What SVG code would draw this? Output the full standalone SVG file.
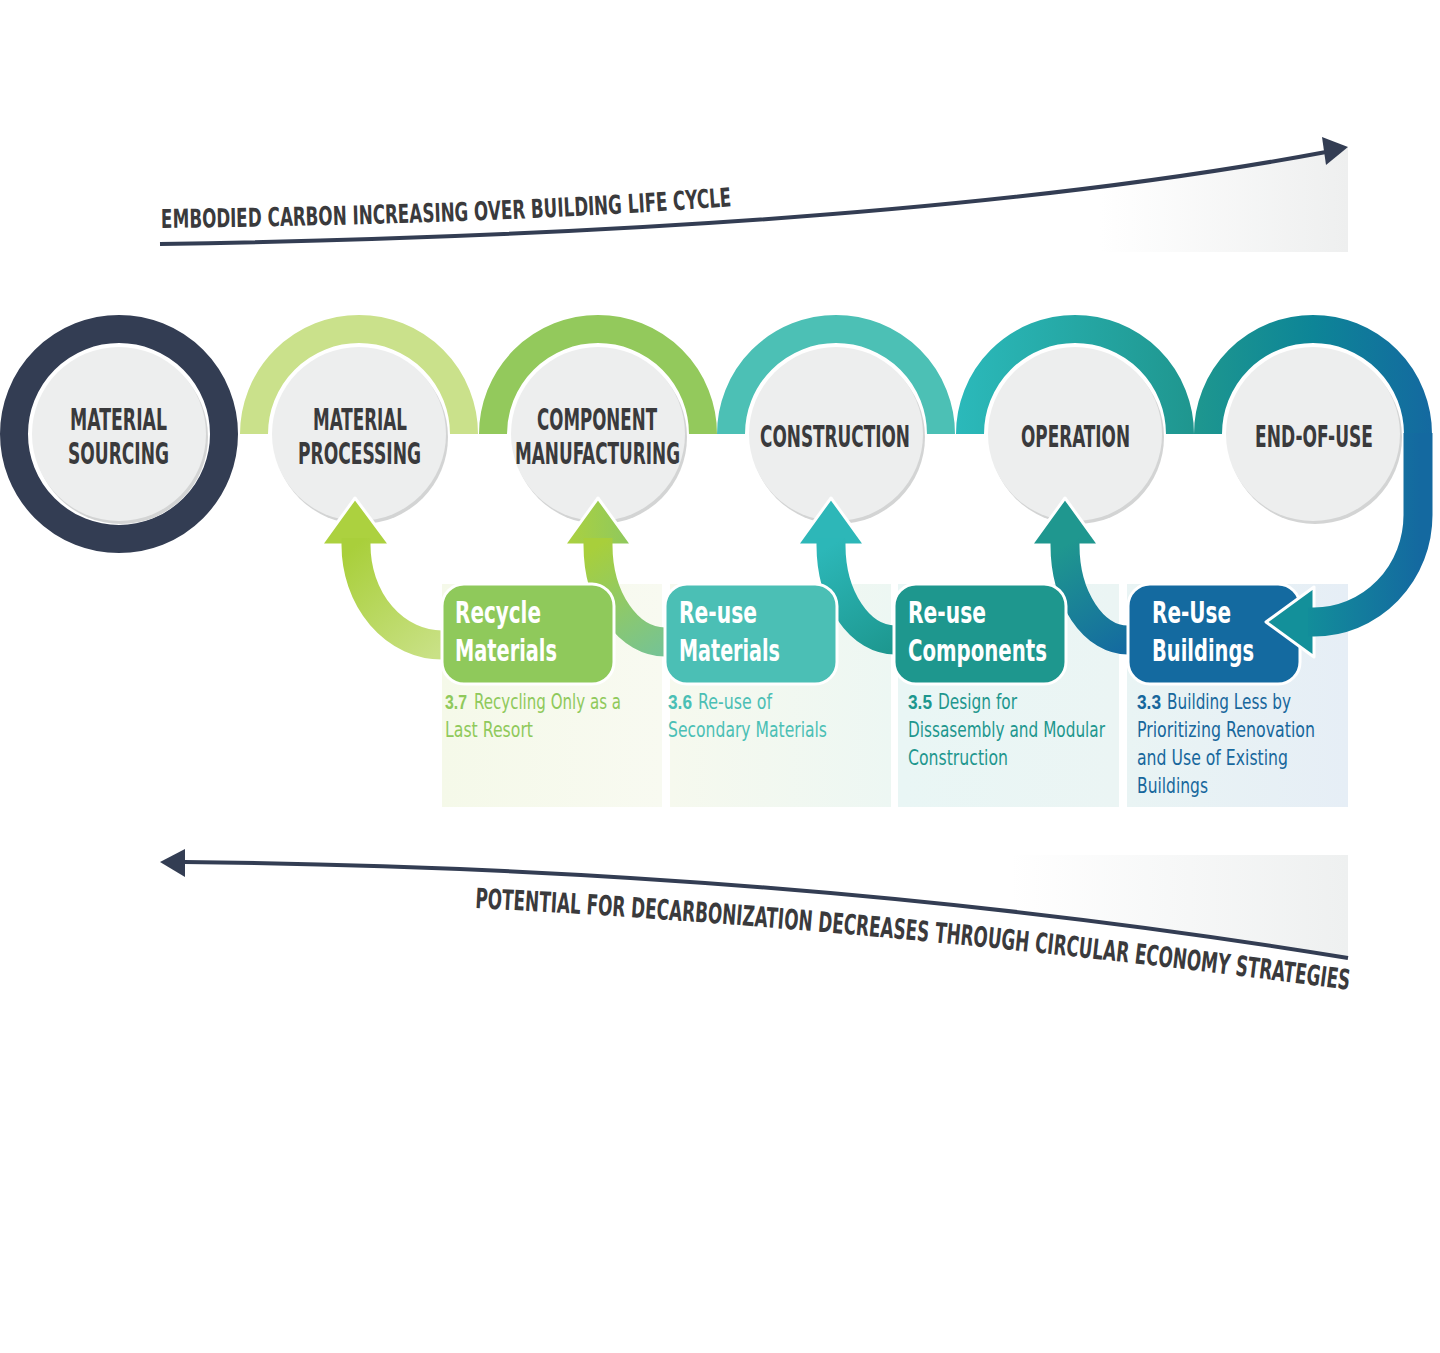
<svg xmlns="http://www.w3.org/2000/svg" width="1440" height="1353" viewBox="0 0 1440 1353">
<style>
.t{font-family:"Liberation Sans Narrow","DejaVu Sans Condensed","Liberation Sans",sans-serif}
.n{font-family:"Liberation Sans",sans-serif;font-size:20px;font-weight:700}
.lbl{font-size:30px;font-weight:700;fill:#3a3a3c}
.ttl{font-size:30px;font-weight:700;fill:#ffffff}
.dsc{font-size:21px}
.hd{font-size:26px;font-weight:700;fill:#3a3a3c}
.hd2{font-size:28px;font-weight:700;fill:#3a3a3c}
.circ{fill:#edeeee}
.shd{fill:#d3d4d4}
.ring{fill:none;stroke-width:28}
.ah{stroke:#ffffff;stroke-width:3;stroke-linejoin:round}
.shaft{fill:none;stroke-width:29}
.box{stroke:#ffffff;stroke-width:3}
.axis{fill:none;stroke:#333d53;stroke-width:4}
</style>
<defs>
<linearGradient id="gTop" gradientUnits="userSpaceOnUse" x1="1100" y1="0" x2="1348" y2="0"><stop offset="0" stop-color="#ffffff"/><stop offset="1" stop-color="#eeefef"/></linearGradient>
<linearGradient id="gBot" gradientUnits="userSpaceOnUse" x1="1010" y1="0" x2="1348" y2="0"><stop offset="0" stop-color="#ffffff"/><stop offset="1" stop-color="#eef0f0"/></linearGradient>
<linearGradient id="gP1" x1="0" y1="0" x2="1" y2="0"><stop offset="0" stop-color="#f5f9e9"/><stop offset="1" stop-color="#f8faf1"/></linearGradient>
<linearGradient id="gP2" x1="0" y1="0" x2="1" y2="0"><stop offset="0" stop-color="#f6f9ee"/><stop offset="1" stop-color="#edf7f3"/></linearGradient>
<linearGradient id="gP3" x1="0" y1="0" x2="1" y2="0"><stop offset="0" stop-color="#e9f6f5"/><stop offset="1" stop-color="#ebf5f4"/></linearGradient>
<linearGradient id="gP4" x1="0" y1="0" x2="1" y2="0"><stop offset="0" stop-color="#e9f4f4"/><stop offset="1" stop-color="#e6eef6"/></linearGradient>
<linearGradient id="gOp" gradientUnits="userSpaceOnUse" x1="958" y1="0" x2="1193" y2="0"><stop offset="0" stop-color="#2bb9ba"/><stop offset="1" stop-color="#1f968f"/></linearGradient>
<linearGradient id="gEnd" gradientUnits="userSpaceOnUse" x1="1194" y1="0" x2="1432" y2="0"><stop offset="0" stop-color="#1e978f"/><stop offset="0.5" stop-color="#0d8597"/><stop offset="1" stop-color="#1469a0"/></linearGradient>
<linearGradient id="gJ" gradientUnits="userSpaceOnUse" x1="1300" y1="0" x2="1420" y2="0"><stop offset="0" stop-color="#12909a"/><stop offset="1" stop-color="#1469a0"/></linearGradient>
<linearGradient id="gS1" gradientUnits="userSpaceOnUse" x1="356" y1="545" x2="442" y2="650"><stop offset="0" stop-color="#a9cf3b"/><stop offset="1" stop-color="#c9e186"/></linearGradient>
<linearGradient id="gS2" gradientUnits="userSpaceOnUse" x1="598" y1="545" x2="666" y2="650"><stop offset="0" stop-color="#a8cf3b"/><stop offset="1" stop-color="#76c394"/></linearGradient>
<linearGradient id="gS3" gradientUnits="userSpaceOnUse" x1="831" y1="545" x2="895" y2="650"><stop offset="0" stop-color="#2cb7b8"/><stop offset="1" stop-color="#1d978f"/></linearGradient>
<linearGradient id="gS4" gradientUnits="userSpaceOnUse" x1="1065" y1="545" x2="1128" y2="650"><stop offset="0" stop-color="#1f978f"/><stop offset="1" stop-color="#146aa0"/></linearGradient>
<linearGradient id="gA2" gradientUnits="userSpaceOnUse" x1="564" y1="0" x2="632" y2="0"><stop offset="0" stop-color="#acd13e"/><stop offset="1" stop-color="#8ec85f"/></linearGradient>
<clipPath id="outsideBoxes">
<path clip-rule="evenodd" d="M0,0H1440V1353H0Z M464,582.5H591.5A23.5,23.5 0 0 1 615.5,606V662A23.5,23.5 0 0 1 591.5,685.5H464A23.5,23.5 0 0 1 440.5,662V606A23.5,23.5 0 0 1 464,582.5Z M687,582.5H814.5A23.5,23.5 0 0 1 838.5,606V662A23.5,23.5 0 0 1 814.5,685.5H687A23.5,23.5 0 0 1 663.5,662V606A23.5,23.5 0 0 1 687,582.5Z M916,582.5H1043.5A23.5,23.5 0 0 1 1067.5,606V662A23.5,23.5 0 0 1 1043.5,685.5H916A23.5,23.5 0 0 1 892.5,662V606A23.5,23.5 0 0 1 916,582.5Z M1150,582.5H1277.5A23.5,23.5 0 0 1 1301.5,606V662A23.5,23.5 0 0 1 1277.5,685.5H1150A23.5,23.5 0 0 1 1126.5,662V606A23.5,23.5 0 0 1 1150,582.5Z"/>
</clipPath>
<path id="topTextPath" d="M161,228 Q500,224 732,206 L800,199"/>
<path id="botTextPath" d="M475,908 Q900,930 1350,990 L1400,997"/>
</defs>

<rect width="1440" height="1353" fill="#ffffff"/>

<g id="axis-embodied-carbon">
<path d="M1100,187 L1145,181.5 L1241,167.5 L1326,152 L1348,148 V252 H1100 Z" fill="url(#gTop)"/>
<path class="axis" d="M160,244 Q900,232 1326,152"/>
<polygon points="1348,147 1322,137 1326,165" fill="#333d53"/>
<text class="t hd"><textPath href="#topTextPath" textLength="571" lengthAdjust="spacingAndGlyphs">EMBODIED CARBON INCREASING OVER BUILDING LIFE CYCLE</textPath></text>
</g>

<g id="axis-decarbonization">
<path d="M1013,855 H1348 V958 L1237.7,940.8 L1126,925.4 L1013,911.6 Z" fill="url(#gBot)"/>
<path class="axis" d="M184,862 Q800,868 1348,958"/>
<polygon points="160,862 185,849 185,877" fill="#333d53"/>
<text class="t hd2"><textPath href="#botTextPath" textLength="878" lengthAdjust="spacingAndGlyphs">POTENTIAL FOR DECARBONIZATION DECREASES THROUGH CIRCULAR ECONOMY STRATEGIES</textPath></text>
</g>

<g id="panels">
<rect x="442" y="584" width="220" height="223" fill="url(#gP1)"/>
<rect x="670" y="584" width="221" height="223" fill="url(#gP2)"/>
<rect x="898" y="584" width="221" height="223" fill="url(#gP3)"/>
<rect x="1127" y="584" width="221" height="223" fill="url(#gP4)"/>
</g>

<g id="node-material-sourcing">
<circle class="ring" cx="119" cy="434" r="105" stroke="#333d53"/>
<circle class="shd" cx="121" cy="437" r="87"/>
<circle class="circ" cx="119" cy="434" r="87"/>
<text class="t lbl" x="70" y="430" textLength="97" lengthAdjust="spacingAndGlyphs">MATERIAL</text>
<text class="t lbl" x="68" y="464" textLength="101" lengthAdjust="spacingAndGlyphs">SOURCING</text>
</g>

<g id="node-material-processing">
<path class="ring" d="M254,434 A105,105 0 0 1 464,434" stroke="#cae18b"/>
<circle class="shd" cx="361" cy="437" r="87"/>
<circle class="circ" cx="359" cy="434" r="87"/>
<text class="t lbl" x="313" y="430" textLength="94" lengthAdjust="spacingAndGlyphs">MATERIAL</text>
<text class="t lbl" x="298" y="464" textLength="123" lengthAdjust="spacingAndGlyphs">PROCESSING</text>
</g>

<g id="node-component-manufacturing">
<path class="ring" d="M493,434 A105,105 0 0 1 703,434" stroke="#93c95c"/>
<circle class="shd" cx="600" cy="437" r="87"/>
<circle class="circ" cx="598" cy="434" r="87"/>
<text class="t lbl" x="537" y="430" textLength="120" lengthAdjust="spacingAndGlyphs">COMPONENT</text>
<text class="t lbl" x="515" y="464" textLength="165" lengthAdjust="spacingAndGlyphs">MANUFACTURING</text>
</g>

<g id="node-construction">
<path class="ring" d="M731,434 A105,105 0 0 1 941,434" stroke="#4cc0b5"/>
<circle class="shd" cx="838" cy="437" r="87"/>
<circle class="circ" cx="836" cy="434" r="87"/>
<text class="t lbl" x="760" y="447" textLength="150" lengthAdjust="spacingAndGlyphs">CONSTRUCTION</text>
</g>

<g id="node-operation">
<path class="ring" d="M970,434 A105,105 0 0 1 1180,434" stroke="url(#gOp)"/>
<circle class="shd" cx="1077" cy="437" r="87"/>
<circle class="circ" cx="1075" cy="434" r="87"/>
<text class="t lbl" x="1021" y="447" textLength="109" lengthAdjust="spacingAndGlyphs">OPERATION</text>
</g>

<g id="node-end-of-use">
<path class="ring" d="M1208,434 A105,105 0 0 1 1418,434" stroke="url(#gEnd)"/>
<circle class="shd" cx="1315" cy="437" r="87"/>
<circle class="circ" cx="1313" cy="434" r="87"/>
<text class="t lbl" x="1255" y="447" textLength="118" lengthAdjust="spacingAndGlyphs">END-OF-USE</text>
</g>

<g id="node-recycle-materials">
<rect class="box" x="442" y="584" width="172" height="100" rx="22" fill="#8fc95b"/>
<text class="t ttl" x="455" y="623" textLength="86" lengthAdjust="spacingAndGlyphs">Recycle</text>
<text class="t ttl" x="455" y="661" textLength="102" lengthAdjust="spacingAndGlyphs">Materials</text>
<text class="n" fill="#8fc95b" x="445" y="709" textLength="22" lengthAdjust="spacingAndGlyphs">3.7</text>
<text class="t dsc" fill="#8fc95b" x="474" y="709" textLength="147" lengthAdjust="spacingAndGlyphs">Recycling Only as a</text>
<text class="t dsc" fill="#8fc95b" x="445" y="737" textLength="88" lengthAdjust="spacingAndGlyphs">Last Resort</text>
</g>

<g id="node-reuse-materials">
<rect class="box" x="665" y="584" width="172" height="100" rx="22" fill="#4bbfb5"/>
<text class="t ttl" x="679" y="623" textLength="78" lengthAdjust="spacingAndGlyphs">Re-use</text>
<text class="t ttl" x="679" y="661" textLength="101" lengthAdjust="spacingAndGlyphs">Materials</text>
<text class="n" fill="#4bbfb5" x="668" y="709" textLength="24" lengthAdjust="spacingAndGlyphs">3.6</text>
<text class="t dsc" fill="#4bbfb5" x="698" y="709" textLength="74" lengthAdjust="spacingAndGlyphs">Re-use of</text>
<text class="t dsc" fill="#4bbfb5" x="668" y="737" textLength="159" lengthAdjust="spacingAndGlyphs">Secondary Materials</text>
</g>

<g id="node-reuse-components">
<rect class="box" x="894" y="584" width="172" height="100" rx="22" fill="#1e978e"/>
<text class="t ttl" x="908" y="623" textLength="78" lengthAdjust="spacingAndGlyphs">Re-use</text>
<text class="t ttl" x="908" y="661" textLength="139" lengthAdjust="spacingAndGlyphs">Components</text>
<text class="n" fill="#1e978e" x="908" y="709" textLength="24" lengthAdjust="spacingAndGlyphs">3.5</text>
<text class="t dsc" fill="#1e978e" x="938" y="709" textLength="79" lengthAdjust="spacingAndGlyphs">Design for</text>
<text class="t dsc" fill="#1e978e" x="908" y="737" textLength="197" lengthAdjust="spacingAndGlyphs">Dissasembly and Modular</text>
<text class="t dsc" fill="#1e978e" x="908" y="765" textLength="100" lengthAdjust="spacingAndGlyphs">Construction</text>
</g>

<g id="node-reuse-buildings">
<rect class="box" x="1128" y="584" width="172" height="100" rx="22" fill="#146aa0"/>
<text class="t ttl" x="1152" y="623" textLength="79" lengthAdjust="spacingAndGlyphs">Re-Use</text>
<text class="t ttl" x="1152" y="661" textLength="102" lengthAdjust="spacingAndGlyphs">Buildings</text>
<text class="n" fill="#17679c" x="1137" y="709" textLength="24" lengthAdjust="spacingAndGlyphs">3.3</text>
<text class="t dsc" fill="#17679c" x="1167" y="709" textLength="124" lengthAdjust="spacingAndGlyphs">Building Less by</text>
<text class="t dsc" fill="#17679c" x="1137" y="737" textLength="178" lengthAdjust="spacingAndGlyphs">Prioritizing Renovation</text>
<text class="t dsc" fill="#17679c" x="1137" y="765" textLength="151" lengthAdjust="spacingAndGlyphs">and Use of Existing</text>
<text class="t dsc" fill="#17679c" x="1137" y="793" textLength="71" lengthAdjust="spacingAndGlyphs">Buildings</text>
</g>

<g id="connectors">
<g id="edge-recycle-to-processing">
<polygon class="ah" points="355,498 321,545 390,545" fill="#acd13f"/>
<path class="shaft" clip-path="url(#outsideBoxes)" d="M356,538 V545 A86,100 0 0 0 442,645 H460" stroke="url(#gS1)"/>
</g>
<g id="edge-reuse-materials-to-manufacturing">
<polygon class="ah" points="598,498 564,545 632,545" fill="url(#gA2)"/>
<path class="shaft" clip-path="url(#outsideBoxes)" d="M598,538 V545 A67,97 0 0 0 665,642 H680" stroke="url(#gS2)"/>
</g>
<g id="edge-reuse-components-to-construction">
<polygon class="ah" points="831,498 797,545 865,545" fill="#2db7b8"/>
<path class="shaft" clip-path="url(#outsideBoxes)" d="M831,538 V545 A64,95 0 0 0 895,640 H910" stroke="url(#gS3)"/>
</g>
<g id="edge-reuse-buildings-to-operation">
<polygon class="ah" points="1065,498 1031,545 1099,545" fill="#1f978f"/>
<path class="shaft" clip-path="url(#outsideBoxes)" d="M1065,538 V545 A63,95 0 0 0 1128,640 H1143" stroke="url(#gS4)"/>
</g>
<g id="edge-end-of-use-to-reuse-buildings">
<polygon class="ah" points="1266,622 1314,587 1314,657" fill="#13909a"/>
<path class="shaft" d="M1418,433 V515 A104,107 0 0 1 1314,622 H1308" stroke="url(#gJ)" stroke-width="28"/>
</g>
</g>
</svg>
